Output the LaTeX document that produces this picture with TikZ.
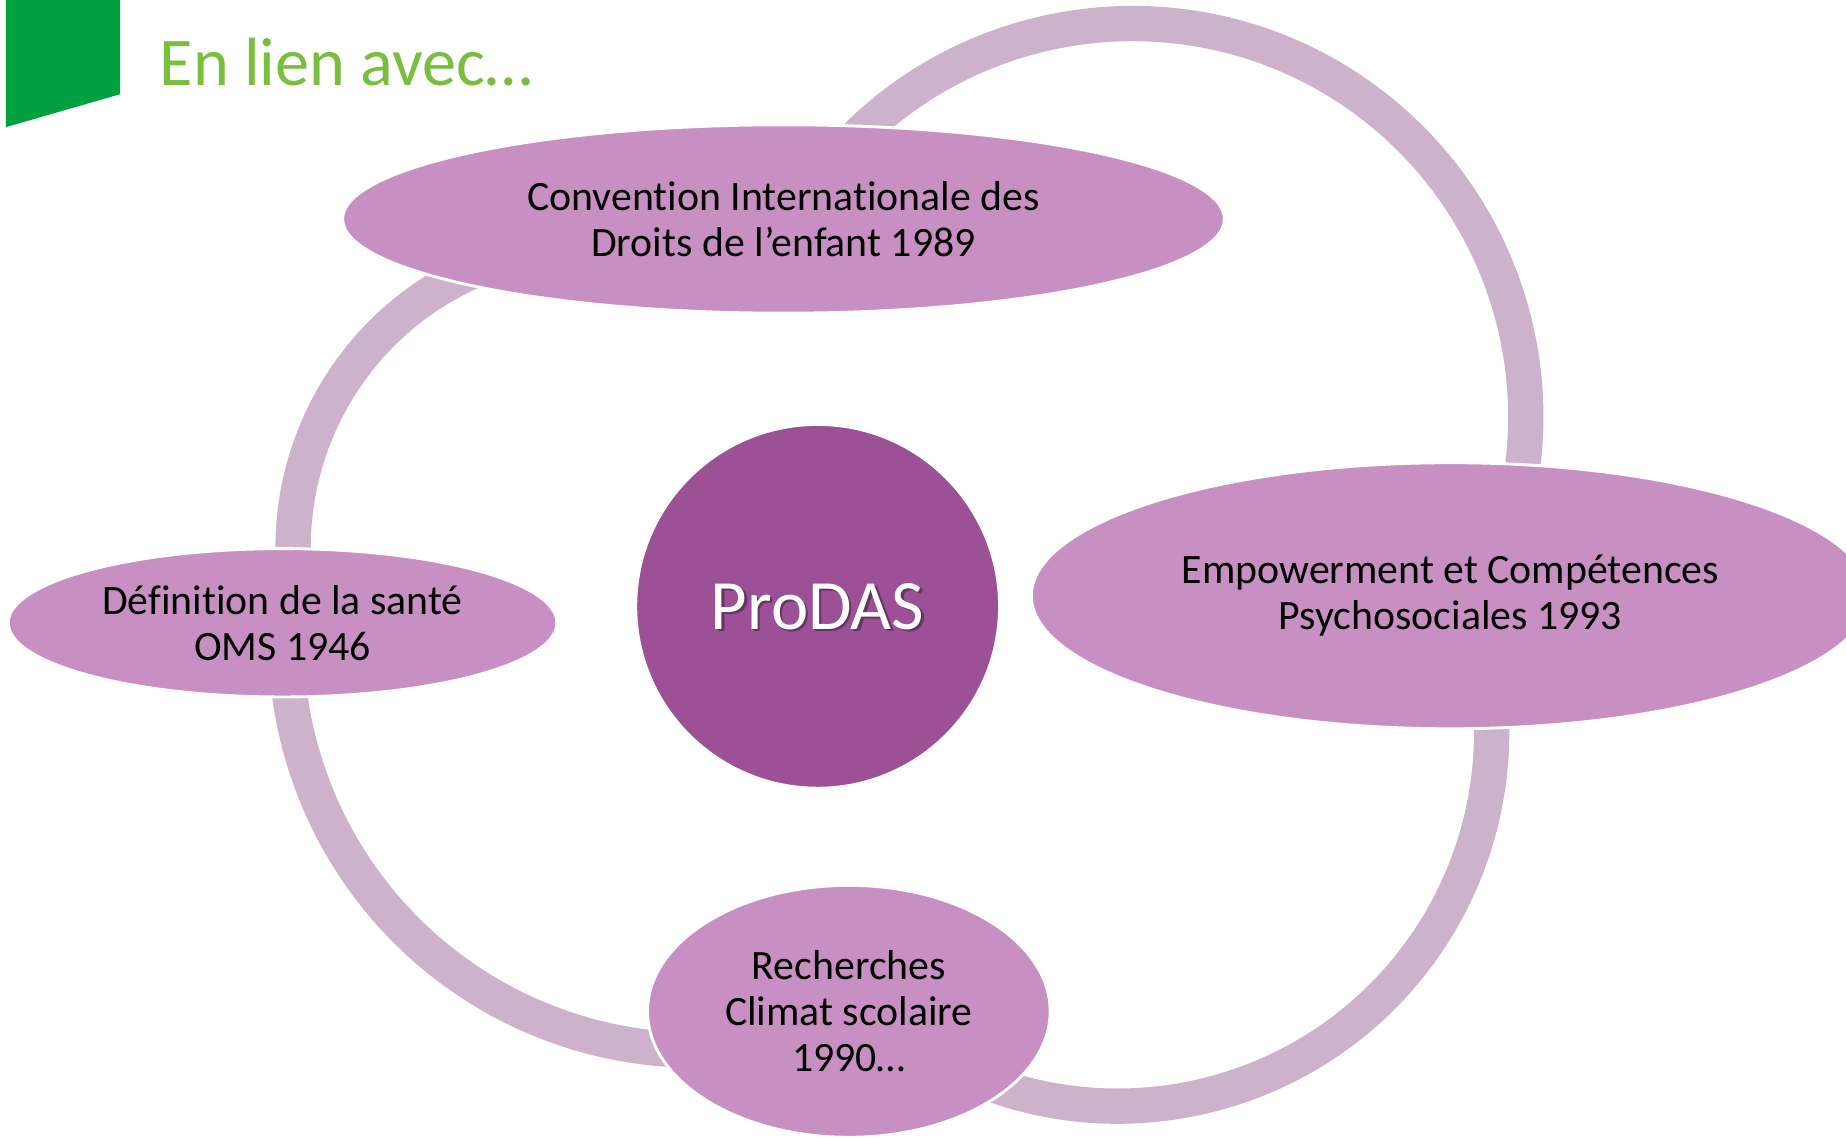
\documentclass[tikz,border=0pt]{standalone}
\usepackage{fontspec}
\setmainfont{Carlito}[Ligatures=CommonOff]
\usetikzlibrary{shapes.geometric}
\definecolor{flaggreen}{RGB}{0,160,64}
\definecolor{titlegreen}{RGB}{122,190,62}
\definecolor{nodefill}{RGB}{200,144,194}
\definecolor{corefill}{RGB}{156,80,150}
\definecolor{ringcol}{RGB}{205,178,203}
\begin{document}
\begin{tikzpicture}[
  ring/.style={line width=0.30cm, draw=ringcol},
  bubble/.style={ellipse, fill=nodefill, draw=white, line width=0.7pt, inner sep=0pt,
    align=center, text=black, font=\fontsize{10.1}{11.1}\selectfont},
  corenode/.style={circle, fill=corefill, draw=white, line width=0.7pt, inner sep=0pt, minimum size=3.09cm},
  coretext/.style={inner sep=0pt, font=\fontsize{17.1}{20}\selectfont},
]
\clip (0,0) rectangle (15.68,-9.66);
\fill[white] (0,0) rectangle (15.68,-9.66);

% flag and title
\fill[flaggreen] (0.05,0.02) -- (1.02,0.02) -- (1.02,-0.80) -- (0.05,-1.08) -- cycle;
\node[anchor=base west, inner sep=0pt, text=titlegreen, font=\fontsize{16.5}{20}\selectfont] (title) at (1.35,-0.73) {En lien avec…};

% arc centres
\coordinate (cA) at (9.62,-3.54);
\coordinate (cB) at (5.06,-4.65);
\coordinate (cC) at (5.91,-5.44);
\coordinate (cD) at (9.495,-6.22);

% connecting rings
\draw[ring] ([shift={(140:3.34)}]cA) arc[start angle=140, end angle=-15, radius=3.34];
\draw[ring] ([shift={(110:2.57)}]cB) arc[start angle=110, end angle=195, radius=2.57];
\draw[ring] ([shift={(178:3.48)}]cC) arc[start angle=178, end angle=285, radius=3.48];
\draw[ring] ([shift={(240:3.175)}]cD) arc[start angle=240, end angle=370, radius=3.175];

% outer nodes
\node[bubble, minimum width=7.49cm, minimum height=1.60cm] (cide) at (6.655,-1.86)
  {Convention Internationale des\\Droits de l’enfant 1989};
\node[bubble, minimum width=4.66cm, minimum height=1.26cm] (oms) at (2.40,-5.29)
  {Définition de la santé\\OMS 1946};
\node[bubble, minimum width=7.12cm, minimum height=2.26cm] (emp) at (12.32,-5.06)
  {Empowerment et Compétences\\Psychosociales 1993};
\node[bubble, minimum width=3.42cm, minimum height=2.14cm] (clim) at (7.21,-8.59)
  {Recherches\\Climat scolaire\\1990…};

% centre
\node[corenode] (core) at (6.945,-5.15) {};
\node[coretext, text=black, opacity=0.35] (prodasshadow) at ([shift={(0.018,-0.018)}]core.center) {ProDAS};
\node[coretext, text=white] (prodas) at (core.center) {ProDAS};
\end{tikzpicture}
\end{document}
